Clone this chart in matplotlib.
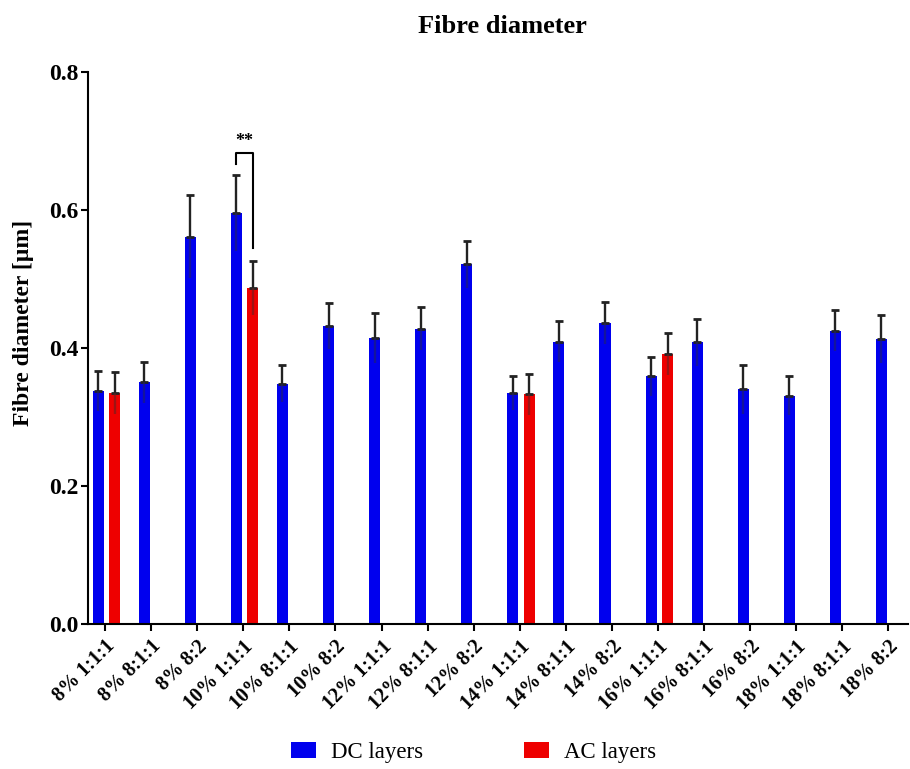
import numpy as np
import matplotlib.pyplot as plt

categories = ['8% 1:1:1', '8% 8:1:1', '8% 8:2', '10% 1:1:1', '10% 8:1:1', '10% 8:2',
              '12% 1:1:1', '12% 8:1:1', '12% 8:2', '14% 1:1:1', '14% 8:1:1', '14% 8:2',
              '16% 1:1:1', '16% 8:1:1', '16% 8:2', '18% 1:1:1', '18% 8:1:1', '18% 8:2']

dc_mean = [0.338, 0.350, 0.561, 0.596, 0.348, 0.432, 0.414, 0.428, 0.521,
           0.335, 0.409, 0.436, 0.359, 0.408, 0.340, 0.331, 0.425, 0.413]
dc_err = [0.029, 0.030, 0.060, 0.055, 0.027, 0.033, 0.036, 0.031, 0.034,
          0.025, 0.030, 0.030, 0.028, 0.034, 0.036, 0.028, 0.030, 0.035]

# AC layers only measured for the 1:1:1 blends of 8, 10, 14 and 16 %
ac_index = [0, 3, 9, 12]
ac_mean = [0.335, 0.487, 0.333, 0.391]
ac_err = [0.030, 0.039, 0.030, 0.030]

if __name__ == '__main__':
    plt.rcParams['font.family'] = ['Liberation Serif', 'DejaVu Serif']

    fig = plt.figure(figsize=(9.1, 7.69), dpi=100)
    ax = fig.add_axes([0.0967, 0.1886, 0.9013, 0.7178])

    x = np.arange(len(categories))
    xa = np.array(ac_index)
    w = 0.24

    ax.bar(x - 0.15, dc_mean, w, color='#0000ee', label='DC layers', zorder=2)
    ax.bar(xa + 0.21, ac_mean, w, color='#ee0000', label='AC layers', zorder=2)

    zeros = np.zeros(len(categories))
    ax.errorbar(x - 0.15, dc_mean, yerr=[zeros, dc_err], fmt='none', ecolor='#222222',
                elinewidth=1.7, capsize=3, capthick=2, zorder=3)
    ax.errorbar(x - 0.15, dc_mean, yerr=[dc_err, zeros], fmt='none', ecolor='#222266',
                elinewidth=1.7, capsize=0, alpha=0.6, zorder=3)
    zeros = np.zeros(len(ac_index))
    ax.errorbar(xa + 0.21, ac_mean, yerr=[zeros, ac_err], fmt='none', ecolor='#222222',
                elinewidth=1.7, capsize=3, capthick=2, zorder=3)
    ax.errorbar(xa + 0.21, ac_mean, yerr=[ac_err, zeros], fmt='none', ecolor='#662222',
                elinewidth=1.7, capsize=0, alpha=0.6, zorder=3)

    # significance bracket between DC and AC for 10% 1:1:1
    x1, x2 = 3 - 0.15, 3 + 0.21
    ax.plot([x1, x1, x2, x2], [0.667, 0.682, 0.682, 0.545], color='black', lw=1.5)
    ax.text((x1 + x2) / 2, 0.687, '**', ha='center', va='bottom', fontsize=13,
            fontweight='bold')

    ax.set_xlim(-0.37, 17.43)
    ax.set_ylim(0, 0.8)
    ax.set_yticks([0.0, 0.2, 0.4, 0.6, 0.8])
    ax.set_yticklabels(['0.0', '0.2', '0.4', '0.6', '0.8'], fontsize=17, fontweight='bold')
    ax.set_xticks(x)
    ax.set_xticklabels(categories, rotation=45, ha='right', rotation_mode='anchor',
                       fontsize=14.5, fontweight='bold')
    ax.tick_params(axis='both', direction='out', length=5, width=1.5)
    ax.tick_params(axis='x', pad=4)
    ax.tick_params(axis='y', pad=2)

    for s in ['top', 'right']:
        ax.spines[s].set_visible(False)
    for s in ['left', 'bottom']:
        ax.spines[s].set_linewidth(1.5)

    ax.set_ylabel('Fibre diameter [µm]', fontsize=17, fontweight='bold')
    ax.yaxis.set_label_coords(-0.066, 0.545)
    fig.text(0.552, 0.966, 'Fibre diameter', ha='center', va='center', fontsize=19,
             fontweight='bold')

    fig.legend(loc='center', bbox_to_anchor=(0.52, 0.022), ncol=2, frameon=False,
               fontsize=16.5, handlelength=1.1, handleheight=0.7, handletextpad=0.65,
               columnspacing=4.4)

    plt.savefig('out.png', dpi=100)
